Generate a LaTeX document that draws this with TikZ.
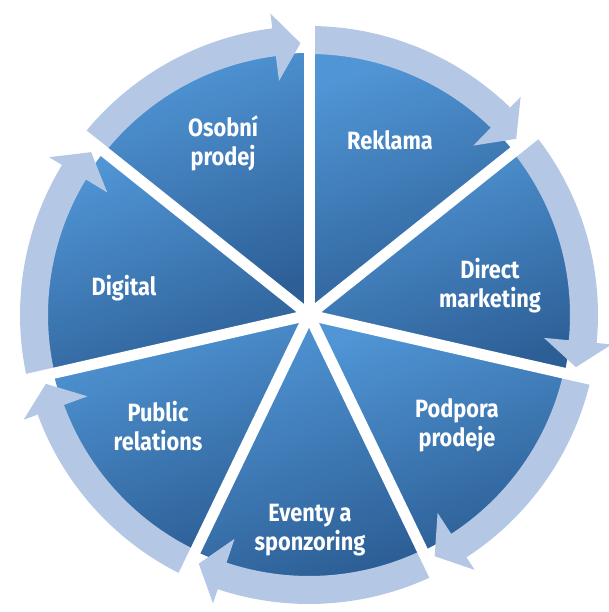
\documentclass[tikz,border=0pt]{standalone}
\usepackage{fontspec}
\newfontfamily\labelfont{Fira Sans}[FakeStretch=0.87]
\definecolor{ringblue}{RGB}{180,200,229}
\definecolor{pielight}{RGB}{80,149,213}
\definecolor{piedark}{RGB}{45,95,150}
\begin{document}
\begin{tikzpicture}[x=1pt,y=1pt,
  lbl/.style={text=white, font=\labelfont\bfseries\fontsize{25}{29}\selectfont, align=center, inner sep=0pt},
  sector/.style={top color=pielight, bottom color=piedark, shading angle=20},
  ringseg/.style={fill=ringblue},
  spoke/.style={draw=white, line width=11pt}]
\useasboundingbox (0,0) rectangle (609,612);
\begin{scope}[shift={(309,297)}]
\coordinate (c) at (0,0);
\foreach \k in {0,...,6}{
  \pgfmathsetmacro\sa{90-\k*360/7}
  \pgfmathsetmacro\sb{90-(\k+1)*360/7}
  \shade[sector] (c) -- (\sa:262) arc[start angle=\sa, end angle=\sb, radius=262] -- cycle;
}
\foreach \k in {0,...,6}{
  \pgfmathsetmacro\sa{90-\k*360/7}
  \pgfmathsetmacro\tp{90-(\k+1)*360/7+1.8}
  \pgfmathsetmacro\bk{\tp+5.5}
  \path[ringseg] (\sa:261) -- (\sa:289) arc[start angle=\sa, end angle=\bk, radius=289]
    -- (\bk:304) -- (\tp:272) -- (\bk:236) -- (\bk:261)
    arc[start angle=\bk, end angle=\sa, radius=261] -- cycle;
}
\foreach \k in {0,...,6}{
  \pgfmathsetmacro\sa{90-\k*360/7}
  \coordinate (e\k) at (\sa:315);
  \path[spoke] (c) -- (e\k);
}
\end{scope}
\node[lbl] (osobni) at (223,469) {Osobní\\prodej};
\node[lbl] (reklama) at (390,472) {Reklama};
\node[lbl] (direct) at (490,326) {Direct\\marketing};
\node[lbl] (podpora) at (457,187) {Podpora\\prodeje};
\node[lbl] (eventy) at (310,82) {Eventy a\\sponzoring};
\node[lbl] (public) at (158,186) {Public\\relations};
\node[lbl] (digital) at (124,324) {Digital};
\end{tikzpicture}
\end{document}
